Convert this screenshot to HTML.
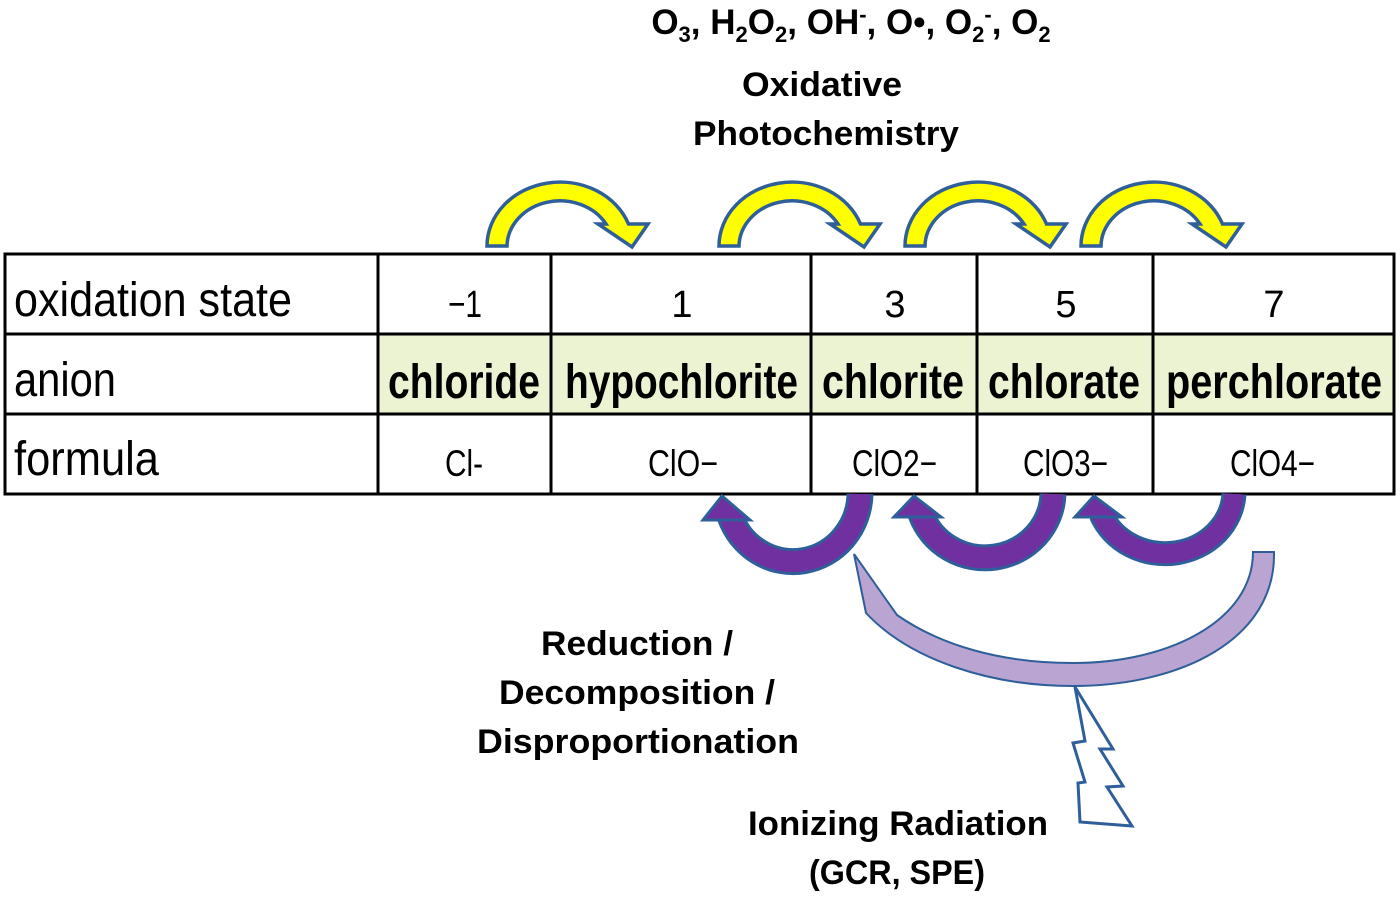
<!DOCTYPE html>
<html><head><meta charset="utf-8"><style>
html,body{margin:0;padding:0;background:#fff;}
svg{display:block;}
</style></head><body>
<svg width="1400" height="897" viewBox="0 0 1400 897" xmlns="http://www.w3.org/2000/svg" font-family="'Liberation Sans', sans-serif">
<defs>
<path id="yarr" d="M487 246 A73 64 0 0 1 628.5 224 L648 224 L632 247 L598 224 L606 224 A53 46 0 0 0 507 246 Z" fill="#ffff00" stroke="#2f5f9a" stroke-width="3.5" stroke-linejoin="miter"/>
</defs>
<!-- top text -->
<text x="851" y="34" font-size="35" font-weight="bold" text-anchor="middle">O<tspan font-size="22" dy="8">3</tspan><tspan dy="-8">, H</tspan><tspan font-size="22" dy="8">2</tspan><tspan dy="-8">O</tspan><tspan font-size="22" dy="8">2</tspan><tspan dy="-8">, OH</tspan><tspan font-size="22" dy="-12">-</tspan><tspan dy="12">, O•, O</tspan><tspan font-size="22" dy="8">2</tspan><tspan font-size="22" dy="-20">-</tspan><tspan dy="12">, O</tspan><tspan font-size="22" dy="8">2</tspan></text>
<text x="822" y="96" font-size="34" font-weight="bold" text-anchor="middle" textLength="160" lengthAdjust="spacingAndGlyphs">Oxidative</text>
<text x="826" y="145" font-size="34" font-weight="bold" text-anchor="middle" textLength="266" lengthAdjust="spacingAndGlyphs">Photochemistry</text>

<!-- yellow arrows -->
<use href="#yarr"/>
<use href="#yarr" transform="translate(232,0)"/>
<use href="#yarr" transform="translate(418,0)"/>
<use href="#yarr" transform="translate(594,0)"/>

<!-- table -->
<rect x="378" y="334" width="1016" height="80" fill="#ebf3d2"/>
<g stroke="#000" stroke-width="3" fill="none">
<rect x="5" y="254" width="1389" height="240"/>
<line x1="5" y1="334" x2="1394" y2="334"/>
<line x1="5" y1="414" x2="1394" y2="414"/>
<line x1="378" y1="254" x2="378" y2="494"/>
<line x1="551" y1="254" x2="551" y2="494"/>
<line x1="811" y1="254" x2="811" y2="494"/>
<line x1="977" y1="254" x2="977" y2="494"/>
<line x1="1153" y1="254" x2="1153" y2="494"/>
</g>
<g font-size="48">
<text x="14" y="316" textLength="278" lengthAdjust="spacingAndGlyphs">oxidation state</text>
<text x="14" y="396" textLength="102" lengthAdjust="spacingAndGlyphs">anion</text>
<text x="14" y="475" textLength="145" lengthAdjust="spacingAndGlyphs">formula</text>
</g>
<g font-size="38" text-anchor="middle">
<text x="465" y="317" textLength="34" lengthAdjust="spacingAndGlyphs">−1</text>
<text x="682" y="317">1</text>
<text x="895" y="317">3</text>
<text x="1066" y="317">5</text>
<text x="1274" y="317">7</text>
</g>
<g font-size="48" font-weight="bold">
<text x="388" y="398" textLength="152" lengthAdjust="spacingAndGlyphs">chloride</text>
<text x="565" y="398" textLength="233" lengthAdjust="spacingAndGlyphs">hypochlorite</text>
<text x="822" y="398" textLength="142" lengthAdjust="spacingAndGlyphs">chlorite</text>
<text x="988" y="398" textLength="152" lengthAdjust="spacingAndGlyphs">chlorate</text>
<text x="1166" y="398" textLength="216" lengthAdjust="spacingAndGlyphs">perchlorate</text>
</g>
<g font-size="37">
<text x="445" y="476" textLength="38" lengthAdjust="spacingAndGlyphs">Cl-</text>
<text x="648" y="476" textLength="70" lengthAdjust="spacingAndGlyphs">ClO−</text>
<text x="852" y="476" textLength="85" lengthAdjust="spacingAndGlyphs">ClO2−</text>
<text x="1023" y="476" textLength="85" lengthAdjust="spacingAndGlyphs">ClO3−</text>
<text x="1230" y="476" textLength="85" lengthAdjust="spacingAndGlyphs">ClO4−</text>
</g>

<!-- lavender arc -->
<path d="M1274 552 C1276 640 1180 686 1073 686 C990 686 910 660 866 613 L854 554 L897 615 C940 645 1000 663 1073 663 C1170 663 1253 620 1253 552 Z" fill="#b9a4d2" stroke="#2f5f9a" stroke-width="2"/>

<!-- purple arrows -->
<g stroke="#2f5f9a" stroke-width="3" fill="#7030a0">
<path d="M860 494 A 67 69 0 0 1 730 516" fill="none" stroke="#2f5f9a" stroke-width="27"/>
<path d="M860 494 A 67 69 0 0 1 730 516" fill="none" stroke="#7030a0" stroke-width="21"/>
<polygon points="722,496 703,520 750,520"/>
<path d="M1053 494 A 68 66 0 0 1 921 514" fill="none" stroke="#2f5f9a" stroke-width="27"/>
<path d="M1053 494 A 68 66 0 0 1 921 514" fill="none" stroke="#7030a0" stroke-width="21"/>
<polygon points="914,496 894,517 941,517"/>
<path d="M1234 494 A 69 63 0 0 1 1101 514" fill="none" stroke="#2f5f9a" stroke-width="25"/>
<path d="M1234 494 A 69 63 0 0 1 1101 514" fill="none" stroke="#7030a0" stroke-width="19"/>
<polygon points="1094,496 1075,517 1122,517"/>
</g>

<!-- lightning -->
<polygon points="1075,687 1113,749 1100,749 1123,786 1107,787 1132,826 1080,822 1078,783 1085,782 1073,743 1085,741" fill="#fff" stroke="#2f5f9a" stroke-width="3" stroke-linejoin="miter"/>

<!-- bottom text -->
<g font-size="34" font-weight="bold" text-anchor="middle">
<text x="637" y="655" textLength="192" lengthAdjust="spacingAndGlyphs">Reduction /</text>
<text x="637" y="704" textLength="276" lengthAdjust="spacingAndGlyphs">Decomposition /</text>
<text x="638" y="753" textLength="322" lengthAdjust="spacingAndGlyphs">Disproportionation</text>
<text x="898" y="835" textLength="300" lengthAdjust="spacingAndGlyphs">Ionizing Radiation</text>
<text x="897" y="884" textLength="176" lengthAdjust="spacingAndGlyphs">(GCR, SPE)</text>
</g>
</svg>
</body></html>
